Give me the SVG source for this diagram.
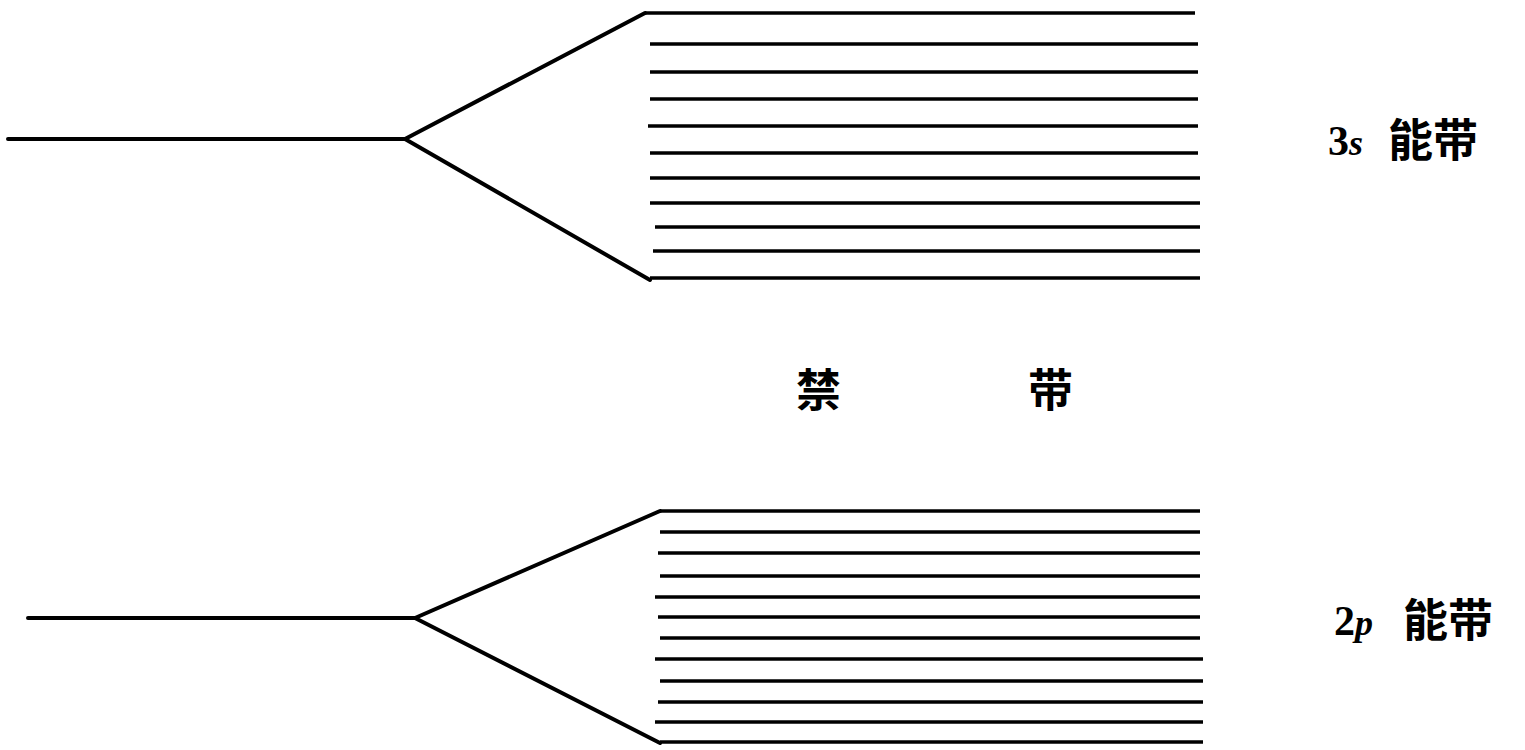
<svg xmlns="http://www.w3.org/2000/svg" width="1525" height="750" viewBox="0 0 1525 750">
<style>
.ln{stroke:#000;stroke-width:4;fill:none;stroke-linecap:round;stroke-linejoin:round}
.lv{stroke:#000;stroke-width:3.6;fill:none}
.cj{font-family:"Noto Sans CJK SC","Noto Sans CJK JP",sans-serif;font-weight:bold;font-size:45px;fill:#000}
.lt{font-family:"Liberation Serif",serif;font-weight:bold;font-size:42px;fill:#000}
</style>
<rect width="1525" height="750" fill="#fff"/>
<g id="band3s">
<path class="ln" d="M8,139 L405,139 L645,13 M405,139 L650,280"/>
<g class="lv">
<line x1="645" y1="13" x2="1195" y2="13"/>
<line x1="650" y1="44" x2="1198" y2="44"/>
<line x1="650" y1="72" x2="1198" y2="72"/>
<line x1="650" y1="99" x2="1198" y2="99"/>
<line x1="648" y1="126" x2="1198" y2="126"/>
<line x1="650" y1="153" x2="1198" y2="153"/>
<line x1="650" y1="178" x2="1200" y2="178"/>
<line x1="650" y1="203" x2="1200" y2="203"/>
<line x1="655" y1="227" x2="1200" y2="227"/>
<line x1="653" y1="251" x2="1200" y2="251"/>
<line x1="650" y1="278" x2="1200" y2="278"/>
</g>
</g>
<g id="band2p">
<path class="ln" d="M28,618 L415,618 L660,511 M415,618 L660,743"/>
<g class="lv">
<line x1="660" y1="511" x2="1200" y2="511"/>
<line x1="660" y1="532" x2="1200" y2="532"/>
<line x1="658" y1="553" x2="1200" y2="553"/>
<line x1="660" y1="576" x2="1200" y2="576"/>
<line x1="655" y1="597" x2="1200" y2="597"/>
<line x1="658" y1="617" x2="1200" y2="617"/>
<line x1="660" y1="638" x2="1200" y2="638"/>
<line x1="655" y1="659" x2="1203" y2="659"/>
<line x1="660" y1="681" x2="1203" y2="681"/>
<line x1="658" y1="702" x2="1203" y2="702"/>
<line x1="655" y1="722" x2="1203" y2="722"/>
<line x1="660" y1="742" x2="1203" y2="742"/>
</g>
</g>
<g id="label3s">
<text class="lt" x="1328" y="155">3<tspan font-style="italic" font-size="36">s</tspan></text>
<text class="cj" x="1388" y="157">能带</text>
</g>
<g id="label2p">
<text class="lt" x="1334" y="635">2<tspan font-style="italic" font-size="36">p</tspan></text>
<text class="cj" x="1403" y="637">能带</text>
</g>
<g id="gap">
<text class="cj" x="796" y="407" font-size="48">禁</text>
<text class="cj" x="1028" y="407" font-size="48">带</text>
</g>
</svg>
